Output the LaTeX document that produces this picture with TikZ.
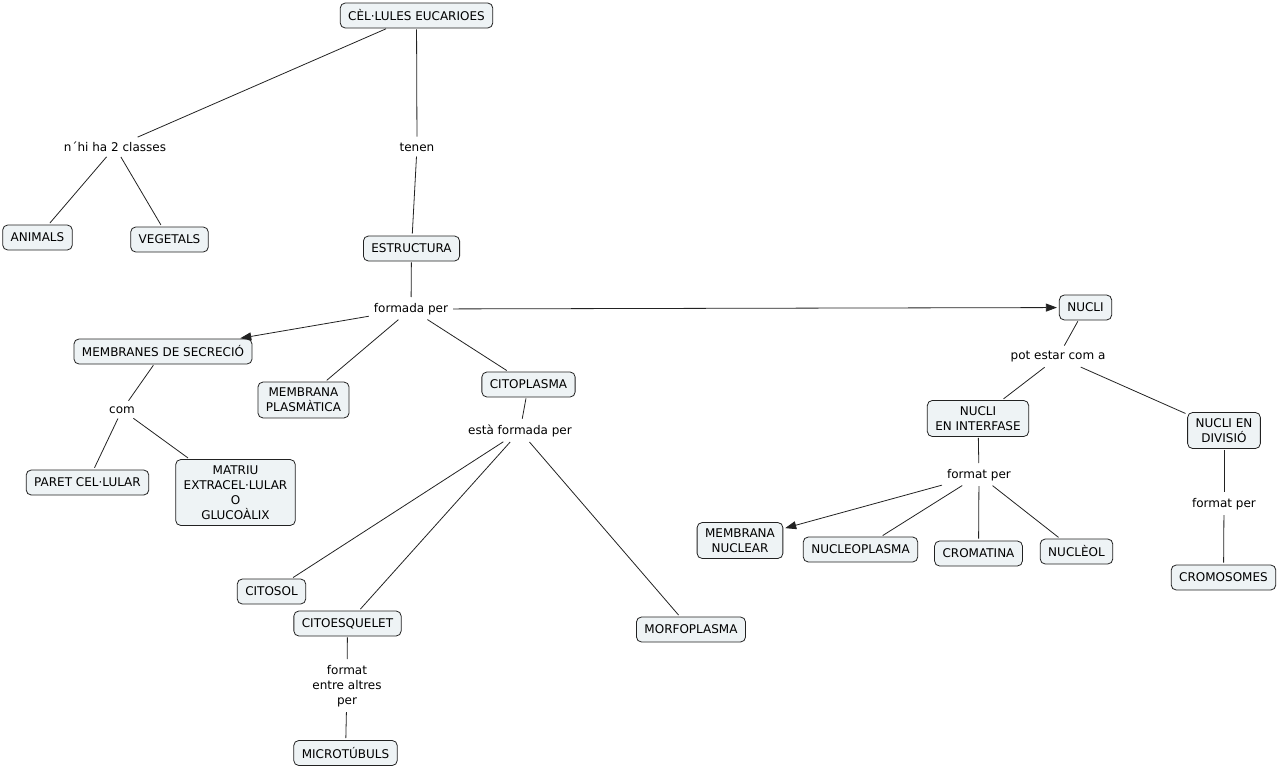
\documentclass[tikz,border=0pt]{standalone}
\usepackage{fontspec}
\setmainfont{DejaVu Sans}
\usetikzlibrary{arrows.meta}
\definecolor{boxfill}{HTML}{EEF3F5}
\definecolor{linecol}{HTML}{222222}
\tikzset{
  concept/.style={draw=linecol, fill=boxfill, rounded corners=5pt, line width=0.8pt,
    inner xsep=8pt, inner ysep=6pt, minimum height=25pt, align=center,
    font=\fontsize{12}{15}\selectfont},
  linklabel/.style={inner sep=4pt, align=center, font=\fontsize{12}{15}\selectfont},
  conn/.style={draw=linecol, line width=0.8pt, shorten <=1pt, shorten >=2pt},
  arr/.style={conn, -{Triangle[length=11pt,width=8pt]}}
}
\begin{document}
\begin{tikzpicture}[x=1pt,y=-1pt]
\useasboundingbox (0,0) rectangle (1278,769);
% concepts
\node[concept] (cel) at (416.5,15.5) {CÈL·LULES EUCARIOES};
\node[concept] (anim) at (37.5,237.5) {ANIMALS};
\node[concept] (veg) at (169.5,239.5) {VEGETALS};
\node[concept] (estr) at (411.5,248.5) {ESTRUCTURA};
\node[concept] (nucli) at (1085.5,307.5) {NUCLI};
\node[concept] (msec) at (163,351.5) {MEMBRANES DE SECRECIÓ};
\node[concept] (mplas) at (303.5,400) {MEMBRANA\\PLASMÀTICA};
\node[concept] (citop) at (528.5,384.5) {CITOPLASMA};
\node[concept] (paret) at (87.5,482.5) {PARET CEL·LULAR};
\node[concept] (matriu) at (235.5,492.5) {MATRIU\\EXTRACEL·LULAR\\O\\GLUCOÀLIX};
\node[concept] (citosol) at (271.5,591.5) {CITOSOL};
\node[concept] (citoesq) at (347.5,623.5) {CITOESQUELET};
\node[concept] (morfo) at (691,629.5) {MORFOPLASMA};
\node[concept] (micro) at (345.5,753) {MICROTÚBULS};
\node[concept] (ninter) at (978,418.5) {NUCLI\\EN INTERFASE};
\node[concept] (ndiv) at (1224,430.5) {NUCLI EN\\DIVISIÓ};
\node[concept] (mnuc) at (740,540.5) {MEMBRANA\\NUCLEAR};
\node[concept] (nucleo) at (860.5,549.5) {NUCLEOPLASMA};
\node[concept] (croma) at (978.5,553.5) {CROMATINA};
\node[concept] (nucleol) at (1076.5,551.5) {NUCLÈOL};
\node[concept] (cromo) at (1223.5,577.5) {CROMOSOMES};
% link labels
\node[linklabel] (l2c) at (115,147) {n´hi ha 2 classes};
\node[linklabel] (lten) at (417,147) {tenen};
\node[linklabel] (lform) at (411,309) {formada per};
\node[linklabel] (lcom) at (122,410) {com};
\node[linklabel] (lest) at (520,431) {està formada per};
\node[linklabel] (lentre) at (347,686) {format\\entre altres\\per};
\node[linklabel] (lpot) at (1058,357) {pot estar com a};
\node[linklabel] (lfp1) at (979,475) {format per};
\node[linklabel] (lfp2) at (1224,504) {format per};
% connectors
\draw[conn] (cel) -- (l2c);
\draw[conn] (l2c) -- (anim);
\draw[conn] (l2c) -- (veg);
\draw[conn] (cel) -- (lten);
\draw[conn] (lten) -- (estr);
\draw[conn] (estr) -- (lform);
\draw[arr] (lform) -- (msec);
\draw[arr] (lform) -- (nucli);
\draw[conn] (lform) -- (mplas);
\draw[conn] (lform) -- (citop);
\draw[conn] (msec) -- (lcom);
\draw[conn] (lcom) -- (paret);
\draw[conn] (lcom) -- (matriu);
\draw[conn] (citop) -- (lest);
\draw[conn] (lest) -- (citosol);
\draw[conn] (lest) -- (citoesq);
\draw[conn] (lest) -- (morfo);
\draw[conn] (citoesq) -- (lentre);
\draw[conn] (lentre) -- (micro);
\draw[conn] (nucli) -- (lpot);
\draw[conn] (lpot) -- (ninter);
\draw[conn] (lpot) -- (ndiv);
\draw[conn] (ninter) -- (lfp1);
\draw[arr] (lfp1) -- (mnuc);
\draw[conn] (lfp1) -- (nucleo);
\draw[conn] (lfp1) -- (croma);
\draw[conn] (lfp1) -- (nucleol);
\draw[conn] (ndiv) -- (lfp2);
\draw[conn] (lfp2) -- (cromo);
\end{tikzpicture}
\end{document}
